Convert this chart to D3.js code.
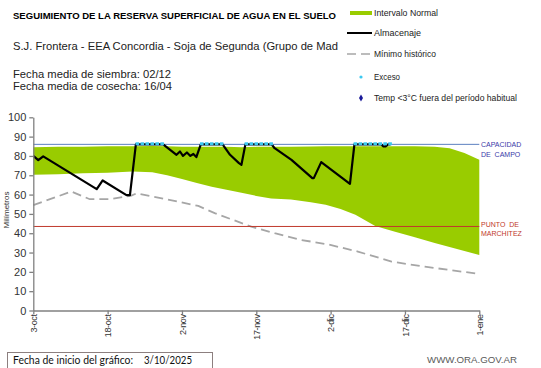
<!DOCTYPE html>
<html>
<head>
<meta charset="utf-8">
<script src="https://cdn.jsdelivr.net/npm/d3@7"></script>
<style>
    body { margin: 0; background: #fff; }
    svg { display: block; font-family: "Liberation Sans", Arial, sans-serif; }
</style>
</head>
<body>
<script>
// dia 0 = 3-oct-2025
const inicio = new Date(Date.UTC(2025, 9, 3));
const tickDias = [0, 15, 30, 45, 60, 75, 90];
const tickEtiquetas = ["3-oct", "18-oct", "2-nov", "17-nov", "2-dic", "17-dic", "1-ene"];
const yTicks = [0, 10, 20, 30, 40, 50, 60, 70, 80, 90, 100];

// intervalo normal (banda verde)
const normDias = [0, 5, 10, 15, 20, 24, 27, 30, 33, 36, 39, 42, 45, 48, 52, 56, 59, 62, 65, 69, 73, 77, 81, 84, 87, 90];
const normMin = [70.2, 70.5, 71, 71.3, 72, 71.5, 70, 68, 66, 64, 62.5, 61, 59.3, 58, 57.4, 56, 54.8, 52.5, 49.5, 43.8, 40.8, 37.9, 35, 32.9, 30.8, 28.7];
const normMax = [84.5, 84.8, 84.7, 85, 85, 85.2, 85, 84.8, 84.7, 84.8, 84.7, 84.5, 84.7, 84.8, 84.7, 84.9, 85, 85, 85, 85, 85, 85, 84.8, 84, 81.5, 78];

// almacenaje
const almDias = [0, 1, 2, 12.8, 14, 18.8, 19.5, 20.7, 26.2, 28.9, 29.6, 30.2, 31, 31.7, 32.3, 32.9, 33.8, 38.2, 39.7, 41.5, 42, 42.8, 48.1, 48.7, 52.1, 56.3, 56.6, 58.1, 63.9, 64.8, 70.2, 70.6, 71.1, 71.6, 72.1];
const almValores = [80, 77.8, 79.8, 62.8, 67.3, 59.7, 59.7, 86, 86, 80.6, 82.3, 80, 81.8, 80, 81, 79.4, 86, 86, 80.6, 76.3, 75.4, 86, 86, 84, 78, 68.5, 68.5, 76.8, 65.5, 86, 86, 85, 85, 86, 86];

// minimo historico
const minDias = [0, 7.7, 11.4, 15.5, 19.8, 20.8, 26.9, 33.3, 36.6, 44, 48.7, 54.1, 59.5, 65.5, 72.3, 79, 90];
const minValores = [54.5, 61.6, 57.6, 57.6, 59.5, 60.6, 57.6, 54.1, 50.4, 43.4, 40, 36.5, 34.2, 30.5, 25.3, 22.7, 18.9];

// exceso
const excesoDias = [21, 22, 23, 24, 25, 26, 34, 35, 36, 37, 38, 43, 44, 45, 46, 47, 48, 65, 66, 67, 68, 69, 70, 71, 72];
const excesoValor = 86.3;

const capacidadCampo = 86;
const puntoMarchitez = 43.5;

const width = 541, height = 368;
const svg = d3.select("body").append("svg").attr("width", width).attr("height", height);

const dia = d => new Date(inicio.getTime() + d * 864e5);
const x = d3.scaleUtc().domain([dia(0), dia(90)]).range([33.3, 479.3]);
const y = d3.scaleLinear().domain([0, 100]).range([310.5, 117.3]);

// banda verde
const banda = normDias.map((d, i) => ({ d: d, lo: normMin[i], hi: normMax[i] }));
svg.append("path").datum(banda)
    .attr("fill", "#99cc00")
    .attr("d", d3.area().x(p => x(dia(p.d))).y0(p => y(p.lo)).y1(p => y(p.hi)));

// minimo historico
svg.append("path").datum(minDias.map((d, i) => [d, minValores[i]]))
    .attr("fill", "none").attr("stroke", "#a6a6a6").attr("stroke-width", 1.8)
    .attr("stroke-dasharray", "9,5")
    .attr("d", d3.line().x(p => x(dia(p[0]))).y(p => y(p[1])));

// lineas de referencia
svg.append("line").attr("x1", x(dia(0))).attr("x2", x(dia(90)))
    .attr("y1", y(capacidadCampo)).attr("y2", y(capacidadCampo))
    .attr("stroke", "#5b80c0").attr("stroke-width", 1);
svg.append("line").attr("x1", x(dia(0))).attr("x2", x(dia(90)))
    .attr("y1", y(puntoMarchitez)).attr("y2", y(puntoMarchitez))
    .attr("stroke", "#c0392b").attr("stroke-width", 1);

// almacenaje
svg.append("path").datum(almDias.map((d, i) => [d, almValores[i]]))
    .attr("fill", "none").attr("stroke", "#000").attr("stroke-width", 2.2)
    .attr("stroke-linejoin", "round")
    .attr("d", d3.line().x(p => x(dia(p[0]))).y(p => y(p[1])));

// exceso
svg.selectAll(".exceso").data(excesoDias).enter().append("rect")
    .attr("class", "exceso")
    .attr("x", d => x(dia(d)) - 1.8).attr("y", y(excesoValor) - 1.5)
    .attr("width", 3.6).attr("height", 3)
    .attr("fill", "#3cc8f0");

// ejes
const yAxis = d3.axisLeft(y).tickValues(yTicks).tickSize(4).tickSizeOuter(0).tickPadding(3);
const gy = svg.append("g").attr("transform", "translate(" + x(dia(0)) + ",0)").call(yAxis);
gy.selectAll("text").style("font-size", "11px").attr("fill", "#333");

const xAxis = d3.axisBottom(x).tickValues(tickDias.map(dia))
    .tickFormat((d, i) => tickEtiquetas[i]).tickSize(4).tickSizeOuter(0);
const gx = svg.append("g").attr("transform", "translate(0," + y(0) + ")").call(xAxis);
gx.selectAll("text")
    .attr("x", -4).attr("y", 0).attr("dy", "0.35em")
    .attr("transform", "rotate(-90)")
    .style("text-anchor", "end").style("font-size", "9px").style("letter-spacing", "-0.4px")
    .attr("fill", "#333");

svg.selectAll(".domain, .tick line").attr("stroke", "#808080").attr("stroke-width", 1.3);

svg.append("text").attr("transform", "translate(9,210) rotate(-90)")
    .style("text-anchor", "middle").style("font-size", "8px").attr("fill", "#333")
    .text("Milímetros");

// etiquetas de referencia
const etiq = (txt, yy, col) => svg.append("text").attr("x", 481).attr("y", yy)
    .style("font-size", "7px").attr("fill", col).attr("xml:space", "preserve").text(txt);
etiq("CAPACIDAD", 147.3, "#3a3aa8");
etiq("DE  CAMPO", 156.7, "#3a3aa8");
etiq("PUNTO  DE", 227.3, "#c0392b");
etiq("MARCHITEZ", 236.3, "#c0392b");

// titulos
const texto = (tx, ty, size, len, txt) => svg.append("text").attr("x", tx).attr("y", ty)
    .style("font-size", size + "px").attr("fill", "#222")
    .attr("textLength", len).attr("lengthAdjust", "spacingAndGlyphs").text(txt);
texto(13, 19, 9, 323, "SEGUIMIENTO DE LA RESERVA SUPERFICIAL DE AGUA EN EL SUELO")
    .style("font-weight", "bold").attr("fill", "#000");
texto(13, 50, 11, 325, "S.J. Frontera - EEA Concordia - Soja de Segunda (Grupo de Mad");
texto(13, 77.6, 10.5, 158, "Fecha media de siembra: 02/12");
texto(13, 90, 10.5, 159, "Fecha media de cosecha: 16/04");

// leyenda
const leg = svg.append("g").style("font-size", "9px").attr("fill", "#222");
const legTexto = (ly, len, txt) => leg.append("text").attr("x", 374).attr("y", ly).attr("dy", "0.35em")
    .attr("textLength", len).attr("lengthAdjust", "spacingAndGlyphs").text(txt);
leg.append("rect").attr("x", 350).attr("y", 11).attr("width", 22).attr("height", 4).attr("fill", "#99cc00");
legTexto(13, 64, "Intervalo Normal");
leg.append("line").attr("x1", 347).attr("x2", 372).attr("y1", 33).attr("y2", 33).attr("stroke", "#000").attr("stroke-width", 2);
legTexto(33, 47, "Almacenaje");
leg.append("line").attr("x1", 347).attr("x2", 371).attr("y1", 54).attr("y2", 54)
    .attr("stroke", "#a6a6a6").attr("stroke-width", 1.5).attr("stroke-dasharray", "9,5");
legTexto(54, 62, "Mínimo histórico");
leg.append("circle").attr("cx", 361).attr("cy", 77).attr("r", 1.6).attr("fill", "#3cc8f0");
legTexto(77, 26, "Exceso");
leg.append("path").attr("d", d3.symbol(d3.symbolDiamond, 14)()).attr("transform", "translate(361,98)").attr("fill", "#1a1a99");
legTexto(98, 143, "Temp <3°C fuera del período habitual");

// pie
svg.append("rect").attr("x", 7.5).attr("y", 352.5).attr("width", 205).attr("height", 17)
    .attr("fill", "none").attr("stroke", "#8c7f7f");
svg.append("text").attr("x", 13).attr("y", 364).style("font-family", "Lato, 'Open Sans', sans-serif")
    .style("font-size", "11px").attr("fill", "#111")
    .attr("textLength", 120).attr("lengthAdjust", "spacingAndGlyphs").text("Fecha de inicio del gráfico:");
svg.append("text").attr("x", 144).attr("y", 364).style("font-family", "Lato, 'Open Sans', sans-serif")
    .style("font-size", "11px").attr("fill", "#111")
    .attr("textLength", 48).attr("lengthAdjust", "spacingAndGlyphs").text("3/10/2025");
svg.append("text").attr("x", 427).attr("y", 363).style("font-size", "9px").attr("fill", "#5a5a5a")
    .attr("textLength", 90).attr("lengthAdjust", "spacingAndGlyphs").text("WWW.ORA.GOV.AR");
</script>
</body>
</html>
